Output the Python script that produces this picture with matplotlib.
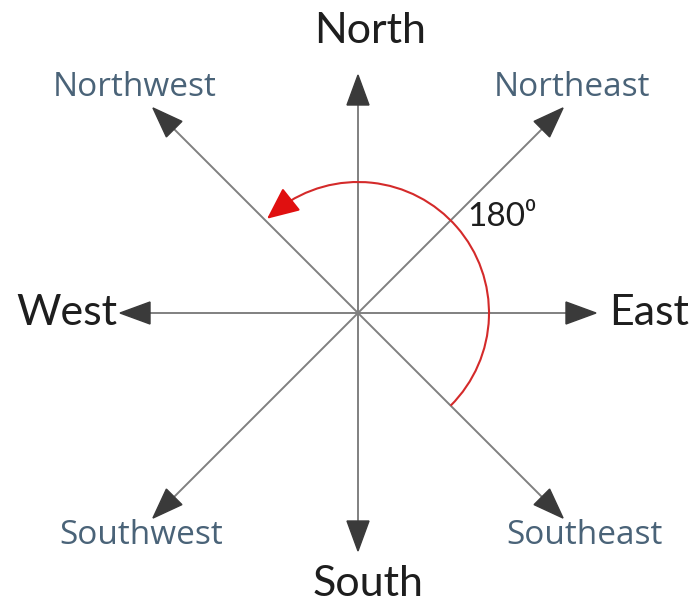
import numpy as np
import matplotlib.pyplot as plt
from matplotlib.patches import Arc, Polygon

# compass directions, angle in degrees (counter-clockwise from East)
directions = ['East', 'Northeast', 'North', 'Northwest', 'West', 'Southwest', 'South', 'Southeast']
angles = [0, 45, 90, 135, 180, 225, 270, 315]
main_dirs = ['North', 'South', 'East', 'West']

# rotation shown by the red arc
arc_start = -45
arc_end = 135
arc_label = '180⁰'

plt.rcParams['font.family'] = ['Lato', 'DejaVu Sans']

fig = plt.figure(figsize=(6.97, 6.07), dpi=100)
ax = fig.add_axes([0, 0, 1, 1])
ax.set_xlim(-358, 339)
ax.set_ylim(-294, 313)
ax.axis('off')

head_len, head_w = 30, 11
for name, ang in zip(directions, angles):
    a = np.deg2rad(ang)
    L = 238 if name in main_dirs else 290
    ux, uy = np.cos(a), np.sin(a)
    px, py = -uy, ux
    ax.plot([0, (L - head_len + 2) * ux], [0, (L - head_len + 2) * uy], color='#808080', lw=1.4, zorder=2)
    bx, by = (L - head_len) * ux, (L - head_len) * uy
    tri = [(L * ux, L * uy), (bx + head_w * px, by + head_w * py), (bx - head_w * px, by - head_w * py)]
    ax.add_patch(Polygon(tri, closed=True, color='#3a3a3a', zorder=3))

# labels
main_col = '#1e1e1e'
ax.text(12, 282, 'North', ha='center', va='center', fontsize=31, color=main_col)
ax.text(10, -271, 'South', ha='center', va='center', fontsize=31, color=main_col)
ax.text(-241, 0, 'West', ha='right', va='center', fontsize=31, color=main_col)
ax.text(251, 0, 'East', ha='left', va='center', fontsize=31, color=main_col)
diag_col = '#4a6378'
diag_font = ['Open Sans', 'DejaVu Sans']
ax.text(-223, 226, 'Northwest', ha='center', va='center', fontsize=24, color=diag_col, family=diag_font)
ax.text(214, 226, 'Northeast', ha='center', va='center', fontsize=24, color=diag_col, family=diag_font)
ax.text(-217, -222, 'Southwest', ha='center', va='center', fontsize=24, color=diag_col, family=diag_font)
ax.text(226, -222, 'Southeast', ha='center', va='center', fontsize=24, color=diag_col, family=diag_font)

# red rotation arc with arrowhead
R = 131
ax.add_patch(Arc((0, 0), 2 * R, 2 * R, theta1=arc_start, theta2=arc_end - 8, color='#d42a2a', lw=1.5, zorder=4))
t0 = np.deg2rad(arc_end - 12)
t1 = np.deg2rad(arc_end - 1)
ax.annotate('', xy=(R * np.cos(t1), R * np.sin(t1)), xytext=(R * np.cos(t0), R * np.sin(t0)),
            arrowprops=dict(arrowstyle='-|>,head_length=1.0,head_width=0.45', color='#e01010',
                            lw=1.5, mutation_scale=20, shrinkA=0, shrinkB=0), zorder=5)
ax.text(109, 96, arc_label, ha='left', va='center', fontsize=24, color=main_col)

fig.savefig('out.png', dpi=100)
